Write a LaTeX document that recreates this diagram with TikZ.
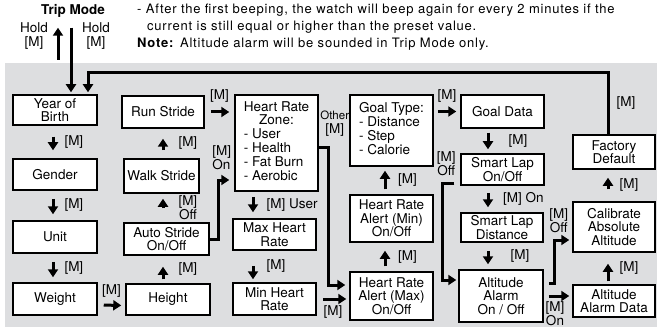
\documentclass[tikz,border=0pt]{standalone}
\usepackage{fontspec}
\setsansfont{TeX Gyre Heros}
\newfontfamily\notefont[LetterSpace=6]{TeX Gyre Heros}
\usetikzlibrary{arrows.meta,positioning,calc}
\definecolor{panelgray}{RGB}{221,222,224}

\begin{document}
\begin{tikzpicture}[x=1pt, y=-1pt,
      box/.style={draw, line width=1.5pt, fill=white, align=center,
        inner sep=1pt, font=\sffamily\fontsize{13.5}{13.6}\selectfont},
      lbl/.style={inner sep=1pt, align=center, font=\sffamily\fontsize{13.5}{14}\selectfont},
      notetext/.style={anchor=base west, inner sep=0pt, font=\notefont\fontsize{13}{14}\selectfont},
      arrowstyle/.style={-{Triangle[length=8pt,width=10pt]}, line width=3pt},
      every node/.style={font=\sffamily}
    ]
    \useasboundingbox (0,0) rectangle (657,329);
    \fill[panelgray] (5,63) rectangle (657,327);

    % Header: trip mode and note
    \node[inner sep=1pt, font=\sffamily\bfseries\fontsize{13.5}{14}\selectfont] (trip) at (73,11) {Trip Mode};
    \node[lbl] (holdin) at (34,36) {Hold\\{[M]}};
    \node[lbl] (holdout) at (96,36) {Hold\\{[M]}};
    \coordinate (tripfrom) at (58,60);
    \node[notetext] (note) at (137,14) {- After the first beeping, the watch will beep again for every 2 minutes if the};
    \node[notetext] (note2) at (147,31) {current is still equal or higher than the preset value.};
    \node[notetext] (note3) at (137,48) {\textbf{Note:} Altitude alarm will be sounded in Trip Mode only.};

    % Column 1: personal data
    \node[box, minimum width=84pt, minimum height=30pt] (birth) at (55,110) {Year of\\Birth};
    \node[box, minimum width=84pt, minimum height=31pt] (gender) at (55,174.5) {Gender};
    \node[box, minimum width=84pt, minimum height=32pt] (unit) at (55,237) {Unit};
    \node[box, minimum width=84pt, minimum height=32pt] (weight) at (55,299) {Weight};

    % Column 2: stride
    \node[box, minimum width=82pt, minimum height=32pt] (run) at (163,112) {Run Stride};
    \node[box, minimum width=75pt, minimum height=34pt] (walk) at (161.5,176) {Walk Stride};
    \node[box, minimum width=85pt, minimum height=32pt] (autostride) at (166.5,239) {Auto Stride\\On/Off};
    \node[box, minimum width=84pt, minimum height=31pt] (height) at (168,299.5) {Height};

    % Column 3: heart rate
    \node[box, minimum width=83pt, minimum height=96pt] (zone) at (276.5,143)
      {\begin{tabular}{@{}l@{}}\multicolumn{1}{@{}c@{}}{Heart Rate}\\ \multicolumn{1}{@{}c@{}}{Zone:}\\
       - User\\ - Health\\ - Fat Burn\\ - Aerobic\end{tabular}};
    \node[box, minimum width=83pt, minimum height=31pt] (maxhr) at (274.5,234.5) {Max Heart\\Rate};
    \node[box, minimum width=83pt, minimum height=32pt] (minhr) at (274.5,299) {Min Heart\\Rate};

    % Column 4: goal and alerts
    \node[box, minimum width=83pt, minimum height=71pt] (goal) at (391.5,130.5)
      {\begin{tabular}{@{}l@{}}\multicolumn{1}{@{}c@{}}{Goal Type:}\\
       - Distance\\ - Step\\ - Calorie\end{tabular}};
    \node[box, minimum width=83pt, minimum height=47pt] (alertmin) at (391.5,218.5) {Heart Rate\\Alert (Min)\\On/Off};
    \node[box, minimum width=83pt, minimum height=48pt] (alertmax) at (391.5,296) {Heart Rate\\Alert (Max)\\On/Off};

    % Column 5: goal data, smart lap, altitude alarm
    \node[box, minimum width=83pt, minimum height=33pt] (goaldata) at (502.5,111.5) {Goal Data};
    \node[box, minimum width=83pt, minimum height=31pt] (lapon) at (502.5,169.5) {Smart Lap\\On/Off};
    \node[box, minimum width=82pt, minimum height=29pt] (lapdist) at (502,227.5) {Smart Lap\\Distance};
    \node[box, minimum width=84pt, minimum height=52pt] (alarm) at (501,296) {Altitude\\Alarm\\On / Off};

    % Column 6: altitude settings
    \node[box, minimum width=82pt, minimum height=34pt] (factory) at (614,152) {Factory\\Default};
    \node[box, minimum width=82pt, minimum height=50pt] (calib) at (614,227) {Calibrate\\Absolute\\Altitude};
    \node[box, minimum width=82pt, minimum height=32pt] (alarmdata) at (614,301) {Altitude\\Alarm Data};

    % Arrows: header
    \draw[arrowstyle, shorten >=9pt] (tripfrom) -- ([xshift=-15pt]trip.south);
    \draw[arrowstyle, shorten <=9pt, shorten >=2pt] ([xshift=-2pt]trip.south) -- ([xshift=16pt]birth.north);

    % Arrows: column 1
    \draw[arrowstyle, shorten <=11pt, shorten >=8pt] ([xshift=-2pt]birth.south) -- node[lbl, right=9pt]{[M]} ([xshift=-2pt]gender.north);
    \draw[arrowstyle, shorten <=8pt, shorten >=6pt] ([xshift=-2pt]gender.south) -- node[lbl, right=9pt]{[M]} ([xshift=-2pt]unit.north);
    \draw[arrowstyle, shorten <=8pt, shorten >=5pt] ([xshift=-2pt]unit.south) -- node[lbl, right=9pt]{[M]} ([xshift=-2pt]weight.north);
    \draw[arrowstyle, shorten <=6pt, shorten >=4pt] ([yshift=-6pt]weight.east) -- node[lbl, above=5pt]{[M]} ([yshift=-6pt]height.west);

    % Arrows: column 2
    \draw[arrowstyle, shorten <=4pt, shorten >=11pt] ([xshift=-5pt]height.north) -- node[lbl, right=13pt]{[M]} ([xshift=-3.5pt]autostride.south);
    \draw[arrowstyle, shorten <=14pt, shorten >=5pt] ([xshift=-3.5pt]autostride.north) -- node[lbl, right=13pt]{[M]\\Off} ([xshift=1.5pt]walk.south);
    \draw[arrowstyle, shorten <=8pt, shorten >=10pt] ([xshift=1.5pt]walk.north) -- node[lbl, right=13pt]{[M]} (run.south);
    \draw[arrowstyle, shorten <=6pt, shorten >=5pt] (run.east) -- node[lbl, above=7pt]{[M]} (run.east -| zone.west);
    \draw[arrowstyle, shorten >=5pt] (autostride.east) -- ++(9,0) |- node[lbl, pos=0.5, above=8pt, xshift=3pt, align=left]{[M]\\On} ([yshift=-37pt]zone.west);

    % Arrows: column 3
    \draw[arrowstyle, shorten <=5pt, shorten >=6pt] ([xshift=-23.5pt]zone.south) -- node[lbl, right=11pt]{[M] User} ([xshift=-21.5pt]maxhr.north);
    \draw[arrowstyle, shorten <=15pt, shorten >=3pt] ([xshift=-21.5pt]maxhr.south) -- node[lbl, right=11pt]{[M]} ([xshift=-21.5pt]minhr.north);
    \draw[arrowstyle, shorten >=4pt] ([yshift=-5pt]zone.east) -- ++(10,0) node[lbl, above=9pt, xshift=6pt]{{\fontsize{11.5}{12}\selectfont Other}\\{[M]}} |- ([yshift=11pt]alertmax.west);
    \draw[arrowstyle, shorten <=6pt, shorten >=3pt] (minhr.east) -- node[lbl, below=4pt]{[M]} (minhr.east -| alertmax.west);

    % Arrows: column 4
    \draw[arrowstyle, shorten <=5pt, shorten >=8pt] ([xshift=-6.5pt]alertmax.north) -- node[lbl, right=10.5pt]{[M]} ([xshift=-6.5pt]alertmin.south);
    \draw[arrowstyle, shorten <=5pt, shorten >=4pt] ([xshift=-6.5pt]alertmin.north) -- node[lbl, right=10.5pt]{[M]} ([xshift=-6.5pt]goal.south);
    \draw[arrowstyle, shorten <=4pt, shorten >=4pt] (goal.east |- goaldata.west) -- node[lbl, above=7pt]{[M]} (goaldata.west);

    % Arrows: column 5
    \draw[arrowstyle, shorten <=4pt, shorten >=4pt] ([xshift=-14.5pt]goaldata.south) -- node[lbl, right=18pt]{[M]} ([xshift=-14.5pt]lapon.north);
    \draw[arrowstyle, shorten <=7pt, shorten >=5pt] ([xshift=-14.5pt]lapon.south) -- node[lbl, right=12.5pt]{[M] On} ([xshift=-14pt]lapdist.north);
    \draw[arrowstyle, shorten <=8pt, shorten >=5pt] ([xshift=-14pt]lapdist.south) -- node[lbl, right=20pt]{[M]} ([xshift=-13pt]alarm.north);
    \draw[arrowstyle, shorten <=6pt, shorten >=2pt] ([yshift=-13.5pt]lapon.west) -- ++(-18,0) node[lbl, above=5pt, xshift=4pt]{[M]\\Off} |- ([yshift=16pt]alarm.west);
    \draw[arrowstyle, shorten <=5pt, shorten >=3pt] ([yshift=13pt]alarm.east) -- ++(11,0) |- node[lbl, pos=0.5, above=5pt, xshift=4pt]{[M]\\Off} ([yshift=-13pt]calib.west);
    \draw[arrowstyle, shorten <=5pt, shorten >=3pt] (alarm.east) -- node[lbl, below=3pt, xshift=-3pt]{[M]\\On} (alarm.east -| alarmdata.west);

    % Arrows: column 6 and back to the start
    \draw[arrowstyle, shorten <=3pt, shorten >=11pt] ([xshift=-6pt]alarmdata.north) -- node[lbl, right=9pt]{[M]} ([xshift=-6pt]calib.south);
    \draw[arrowstyle, shorten <=12pt, shorten >=8pt] ([xshift=-6pt]calib.north) -- node[lbl, right=9pt]{[M]} ([xshift=-6pt]factory.south);
    \draw[arrowstyle, shorten >=2pt] ([xshift=-6pt]factory.north) -- node[lbl, right=6pt]{[M]} ++(0,-62) -| ([xshift=33pt]birth.north);
  \end{tikzpicture}
\end{document}
